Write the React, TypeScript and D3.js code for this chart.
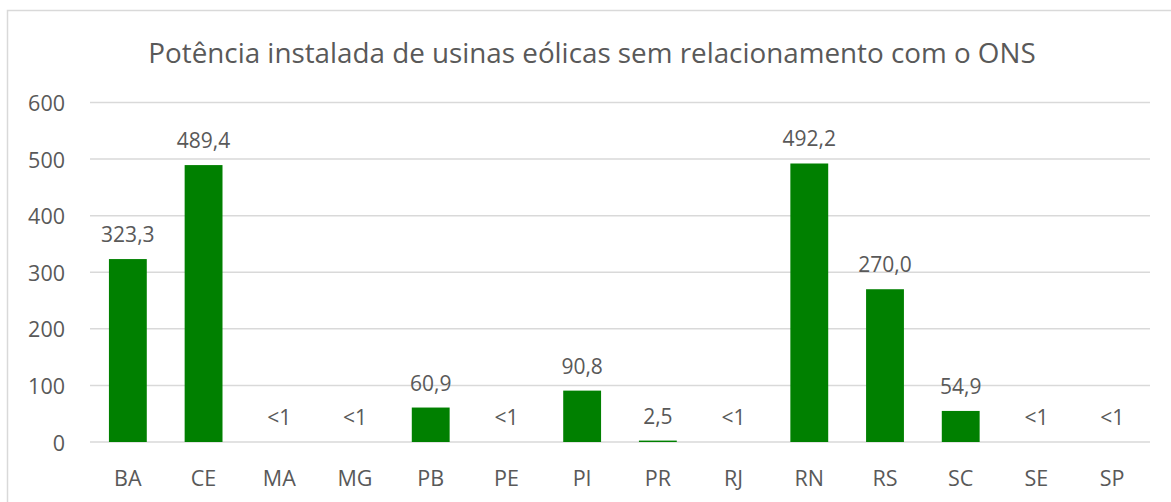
import { useEffect, useRef } from "react"
import * as d3 from "d3"

const categories = ["BA", "CE", "MA", "MG", "PB", "PE", "PI", "PR", "RJ", "RN", "RS", "SC", "SE", "SP"]
// "<1" states have a bar too small to see
const values = [323.3, 489.4, 0, 0, 60.9, 0, 90.8, 2.5, 0, 492.2, 270.0, 54.9, 0, 0]
const labels = ["323,3", "489,4", "<1", "<1", "60,9", "<1", "90,8", "2,5", "<1", "492,2", "270,0", "54,9", "<1", "<1"]
const yTicks = [0, 100, 200, 300, 400, 500, 600]
const title = "Potência instalada de usinas eólicas sem relacionamento com o ONS"

export default function App() {
  const svgRef = useRef<SVGSVGElement>(null)

  useEffect(() => {
    if (!svgRef.current) return
    const svg = d3.select(svgRef.current)
    svg.selectAll("*").remove()

    const width = 1171
    const height = 502
    const font = "'Open Sans', sans-serif"
    const textColor = "#595959"

    svg.attr("width", width).attr("height", height)

    // chart frame (right and bottom run off the page)
    svg.append("rect")
      .attr("x", 7.5).attr("y", 10.5)
      .attr("width", width + 20).attr("height", height + 20)
      .style("fill", "white")
      .style("stroke", "#d9d9d9")
      .style("stroke-width", 1.5)

    const x = d3.scaleBand().domain(categories).range([90, 1150]).paddingInner(0.5).paddingOuter(0.25)
    const y = d3.scaleLinear().domain([0, 600]).range([442, 102.5])

    // gridlines
    yTicks.forEach(t => {
      svg.append("line")
        .attr("x1", 90).attr("x2", 1150)
        .attr("y1", y(t)).attr("y2", y(t))
        .style("stroke", "#d9d9d9")
        .style("stroke-width", 1.5)
    })

    // y labels
    yTicks.forEach(t => {
      svg.append("text")
        .attr("x", 65).attr("y", y(t))
        .attr("text-anchor", "end")
        .attr("dominant-baseline", "central")
        .style("font-family", font)
        .style("font-size", "21.5px")
        .style("fill", textColor)
        .text(t)
    })

    // bars
    categories.forEach((c, i) => {
      const h = y(0) - y(values[i])
      if (h > 0) {
        svg.append("rect")
          .attr("x", x(c)!)
          .attr("y", y(values[i]))
          .attr("width", x.bandwidth())
          .attr("height", h)
          .style("fill", "#008000")
      }

      svg.append("text")
        .attr("x", x(c)! + x.bandwidth() / 2)
        .attr("y", y(values[i]) - 25)
        .attr("text-anchor", "middle")
        .attr("dominant-baseline", "central")
        .style("font-family", font)
        .style("font-size", "21px")
        .style("fill", textColor)
        .text(labels[i])

      svg.append("text")
        .attr("x", x(c)! + x.bandwidth() / 2)
        .attr("y", 477)
        .attr("text-anchor", "middle")
        .attr("dominant-baseline", "central")
        .style("font-family", font)
        .style("font-size", "21.5px")
        .style("fill", textColor)
        .text(c)
    })

    svg.append("text")
      .attr("x", 592).attr("y", 52)
      .attr("text-anchor", "middle")
      .attr("dominant-baseline", "central")
      .style("font-family", font)
      .style("font-size", "27.8px")
      .style("fill", textColor)
      .text(title)
  }, [])

  return <svg ref={svgRef} style={{ position: "absolute", left: 0, top: 0 }} />
}
